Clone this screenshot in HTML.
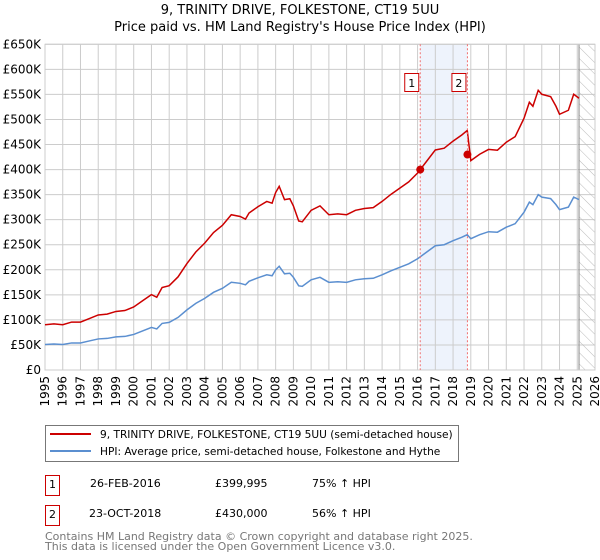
<!DOCTYPE html>
<html><head><meta charset="utf-8"><style>
body{margin:0;background:#fff;font-family:"DejaVu Sans","Liberation Sans",sans-serif;}
svg{display:block}
</style></head><body>
<svg id="chart" width="600" height="560" xmlns="http://www.w3.org/2000/svg" font-family="DejaVu Sans, Liberation Sans, sans-serif">
<defs><pattern id="hatch" width="8" height="8" patternUnits="userSpaceOnUse" patternTransform="rotate(-45)"><line x1="0" y1="0" x2="0" y2="8" stroke="#bbb" stroke-width="1"/></pattern></defs>
<text x="300" y="14" text-anchor="middle" font-size="13" fill="#000">9, TRINITY DRIVE, FOLKESTONE, CT19 5UU</text>
<text x="300" y="31" text-anchor="middle" font-size="13" fill="#000">Price paid vs. HM Land Registry's House Price Index (HPI)</text>
<g id="grid"></g><g id="series"></g><g id="marks"></g>
<g>
<rect x="45.5" y="425.5" width="413" height="36" fill="#fff" stroke="#777"/>
<line x1="50" y1="434" x2="91" y2="434" stroke="#cc0000" stroke-width="2"/>
<text x="100" y="438" font-size="10.6">9, TRINITY DRIVE, FOLKESTONE, CT19 5UU (semi-detached house)</text>
<line x1="50" y1="451" x2="91" y2="451" stroke="#5b8fd0" stroke-width="2"/>
<text x="100" y="455" font-size="10.6">HPI: Average price, semi-detached house, Folkestone and Hythe</text>
</g>
<g font-size="11">
<rect x="45.5" y="475.5" width="14" height="20" fill="#fff" stroke="#cc0000"/><text x="52.5" y="488" text-anchor="middle">1</text>
<text x="90" y="487">26-FEB-2016</text><text x="215" y="487">£399,995</text><text x="312" y="487">75% ↑ HPI</text>
<rect x="45.5" y="505.5" width="14" height="20" fill="#fff" stroke="#cc0000"/><text x="52.5" y="518" text-anchor="middle">2</text>
<text x="89" y="517">23-OCT-2018</text><text x="215" y="517">£430,000</text><text x="312" y="517">56% ↑ HPI</text>
</g>
<text x="45" y="540" font-size="11" fill="#777">Contains HM Land Registry data © Crown copyright and database right 2025.</text>
<text x="45" y="550" font-size="11" fill="#777">This data is licensed under the Open Government Licence v3.0.</text>
</svg>
<script>
const hpiYears=[1995,1995.5,1996,1996.5,1997,1997.5,1998,1998.5,1999,1999.5,2000,2000.5,2001,2001.3,2001.6,2002,2002.5,2003,2003.5,2004,2004.5,2005,2005.5,2006,2006.3,2006.5,2007,2007.5,2007.8,2008,2008.2,2008.5,2008.8,2009,2009.3,2009.5,2010,2010.5,2011,2011.5,2012,2012.5,2013,2013.5,2014,2014.5,2015,2015.5,2016,2016.5,2017,2017.5,2018,2018.5,2018.8,2019,2019.5,2020,2020.5,2021,2021.5,2022,2022.3,2022.5,2022.8,2023,2023.5,2023.8,2024,2024.5,2024.8,2025.1];
const hpiValues=[51,52,51,54,54,58,62,63,66,67,71,78,85,82,93,95,105,120,133,143,155,163,175,173,170,177,184,190,188,200,207,192,193,185,168,167,180,185,175,176,175,180,182,183,190,198,205,212,222,235,248,250,258,265,270,262,270,276,275,285,292,315,335,330,350,345,342,330,320,325,345,340];
const saleYears=[2016.15,2018.81];
const salePrices=[399995,430000];
const yTicks=[0,50,100,150,200,250,300,350,400,450,500,550,600,650];
const xTicks=[1995,1996,1997,1998,1999,2000,2001,2002,2003,2004,2005,2006,2007,2008,2009,2010,2011,2012,2013,2014,2015,2016,2017,2018,2019,2020,2021,2022,2023,2024,2025,2026];
const dataEnd=2025.1;
const X0=45,X1=595,Y0=370,Y1=44.3;
const x=v=>X0+(v-1995)/(2026-1995)*(X1-X0);
const y=v=>Y0-v/650*(Y0-Y1);
const NS="http://www.w3.org/2000/svg";
function mk(p,tag,a){const e=document.createElementNS(NS,tag);for(const k in a)e.setAttribute(k,a[k]);p.appendChild(e);return e;}
const g=document.getElementById('grid'),s=document.getElementById('series'),m=document.getElementById('marks');
const band=mk(g,'rect',{x:x(saleYears[0]),y:Y1,width:x(saleYears[1])-x(saleYears[0]),height:Y0-Y1,fill:'#eef3fc'});


yTicks.forEach(t=>{
 mk(g,'line',{x1:X0,x2:X1,y1:y(t),y2:y(t),stroke:'#ccc','stroke-width':1});
 const tx=mk(g,'text',{x:X0-4,y:y(t)+4,'text-anchor':'end','font-size':12});
 tx.textContent=t===0?'£0':'£'+t+'K';
 
 
});
xTicks.forEach(t=>{
 mk(g,'line',{x1:x(t),x2:x(t),y1:Y1,y2:Y0,stroke:'#ccc','stroke-width':1});
 const tx=mk(g,'text',{x:0,y:0,'text-anchor':'end','font-size':12,transform:`translate(${x(t)+4},${Y0+6}) rotate(-90)`});
 tx.textContent=t;
 
 
});
const hat=mk(g,'rect',{x:x(dataEnd),y:Y1,width:X1-x(dataEnd),height:Y0-Y1,fill:'url(#hatch)'});


mk(g,'line',{x1:x(dataEnd),x2:x(dataEnd),y1:Y1,y2:Y0,stroke:'#888','stroke-width':1});
mk(g,'rect',{x:X0,y:Y1,width:X1-X0,height:Y0-Y1,fill:'none',stroke:'#ccc'});
function hpiAt(t){for(let i=1;i<hpiYears.length;i++){if(t<=hpiYears[i]){const f=(t-hpiYears[i-1])/(hpiYears[i]-hpiYears[i-1]);return hpiValues[i-1]+f*(hpiValues[i]-hpiValues[i-1]);}}return hpiValues[hpiValues.length-1];}
const r1=salePrices[0]/1000/hpiAt(saleYears[0]),r2=salePrices[1]/1000/hpiAt(saleYears[1]);
const bp=hpiYears.map((t,i)=>x(t)+','+y(hpiValues[i])).join(' ');
const bl=mk(s,'polyline',{points:bp,fill:'none',stroke:'#5b8fd0','stroke-width':1.5});


const rp=hpiYears.map((t,i)=>x(t)+','+y(hpiValues[i]*(t<saleYears[1]?r1:r2))).join(' ');
const rl=mk(s,'polyline',{points:rp,fill:'none',stroke:'#cc0000','stroke-width':1.5});


saleYears.forEach((t,i)=>{
 mk(m,'line',{x1:x(t),x2:x(t),y1:Y1,y2:Y0,stroke:'#f07070','stroke-dasharray':'2,2','stroke-width':1});
 const c=mk(m,'circle',{cx:x(t),cy:y(salePrices[i]/1000),r:4,fill:'#cc0000'});
 
 
 const b=mk(m,'rect',{x:x(t)-15.5,y:73.5,width:14,height:18,fill:'#fff',stroke:'#cc0000'});
 
 
 const tx=mk(m,'text',{x:x(t)-8.5,y:87,'text-anchor':'middle','font-size':11});
 tx.textContent=i+1;
});
</script>
</body></html>
